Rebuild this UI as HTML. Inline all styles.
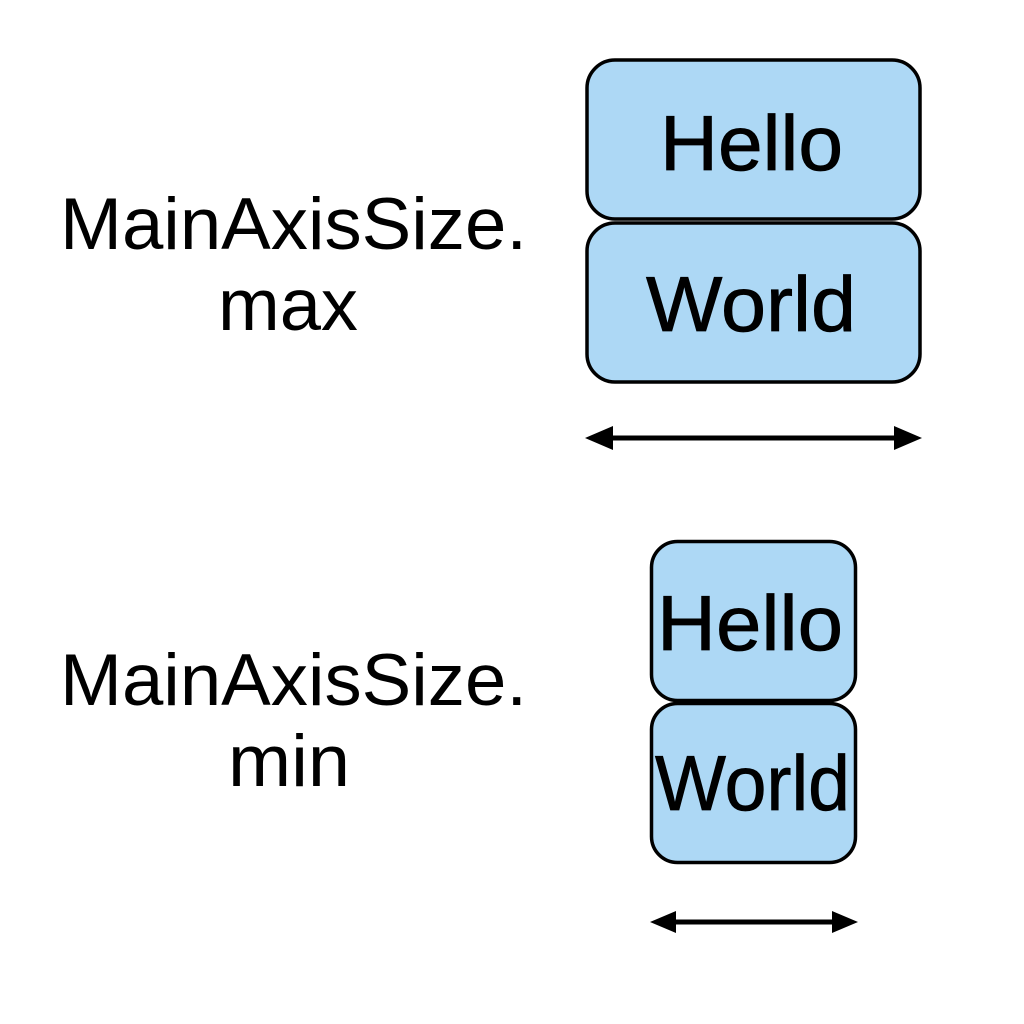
<!DOCTYPE html>
<html><head><meta charset="utf-8"><style>html,body{margin:0;padding:0;background:#fff}svg{display:block}</style></head>
<body>
<svg width="1024" height="1024" viewBox="0 0 1024 1024" xmlns="http://www.w3.org/2000/svg" font-family="Liberation Sans, sans-serif">
<rect width="1024" height="1024" fill="#fff"/>
<g fill="#ADD8F5" stroke="#000" stroke-width="3.5">
<rect x="587" y="60" width="333" height="159" rx="28"/>
<rect x="587" y="223" width="333" height="159" rx="28"/>
<rect x="651.5" y="541.5" width="204" height="159" rx="26"/>
<rect x="651.5" y="703.5" width="204" height="159" rx="26"/>
</g>
<g fill="#000" font-size="78" stroke="#000" stroke-width="0.8">
<text x="660" y="170" textLength="183" lengthAdjust="spacingAndGlyphs">Hello</text>
<text x="646" y="331" textLength="210" lengthAdjust="spacingAndGlyphs">World</text>
<text x="657" y="650" textLength="186" lengthAdjust="spacingAndGlyphs">Hello</text>
<text x="655" y="810" textLength="195" lengthAdjust="spacingAndGlyphs">World</text>
</g>
<g fill="#000" font-size="73">
<text x="60" y="249" textLength="467" lengthAdjust="spacingAndGlyphs">MainAxisSize.</text>
<text x="218" y="330" textLength="140" lengthAdjust="spacingAndGlyphs">max</text>
<text x="60" y="705" textLength="467" lengthAdjust="spacingAndGlyphs">MainAxisSize.</text>
<text x="228" y="786" textLength="122" lengthAdjust="spacingAndGlyphs">min</text>
</g>
<g stroke="#000" stroke-width="5">
<line x1="605" y1="438" x2="902" y2="438"/>
<line x1="668" y1="922" x2="840" y2="922"/>
</g>
<g fill="#000">
<polygon points="585,438 613,426 613,450"/>
<polygon points="922,438 894,426 894,450"/>
<polygon points="650,922 676,911 676,933"/>
<polygon points="858,922 832,911 832,933"/>
</g>
</svg>
</body></html>
